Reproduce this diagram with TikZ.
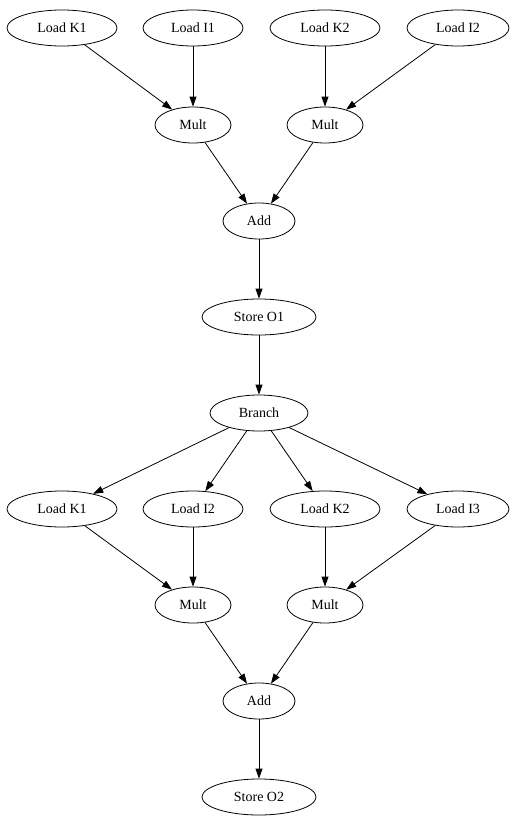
\documentclass[tikz,border=0pt]{standalone}
\usepackage{fontspec}
\setmainfont{Liberation Serif}
\usetikzlibrary{shapes, arrows.meta, positioning}

\begin{document}
\begin{tikzpicture}[x=1pt,y=-1pt]
        \useasboundingbox (0,0) rectangle (514,827);
        \begin{scope}[every node/.style={draw,line width=0.8pt,ellipse,inner sep=0pt,minimum height=36pt,font=\fontsize{14}{16}\selectfont}]
          \node[minimum width=110pt] (ka) at (62,28) {Load K1};
          \node[minimum width=100pt] (ia) at (193,28) {Load I1};
          \node[minimum width=110pt] (kb) at (325,28) {Load K2};
          \node[minimum width=102pt] (ib) at (458,28) {Load I2};
          \node[minimum width=76pt] (ma) at (193,125) {Mult};
          \node[minimum width=76pt] (mb) at (325,125) {Mult};
          \node[minimum width=72pt] (adda) at (259,221) {Add};
          \node[minimum width=114pt] (sa) at (259,317) {Store O1};
          \node[minimum width=98pt] (br) at (259,413) {Branch};
          \node[minimum width=110pt] (kc) at (62,509) {Load K1};
          \node[minimum width=100pt] (ic) at (193,509) {Load I2};
          \node[minimum width=110pt] (kd) at (325,509) {Load K2};
          \node[minimum width=102pt] (id) at (458,509) {Load I3};
          \node[minimum width=76pt] (mc) at (193,605) {Mult};
          \node[minimum width=76pt] (md) at (325,605) {Mult};
          \node[minimum width=72pt] (addb) at (259,701) {Add};
          \node[minimum width=114pt] (sb) at (259,797) {Store O2};
        \end{scope}
        \begin{scope}[every edge/.style={draw=black,line width=0.8pt,-{Triangle[length=10pt,width=7pt]}}]
          \path (ka) edge (ma);
          \path (ia) edge (ma);
          \path (kb) edge (mb);
          \path (ib) edge (mb);
          \path (ma) edge (adda);
          \path (mb) edge (adda);
          \path (adda) edge (sa);
          \path (sa) edge (br);
          \path (br) edge (kc);
          \path (br) edge (ic);
          \path (br) edge (kd);
          \path (br) edge (id);
          \path (kc) edge (mc);
          \path (ic) edge (mc);
          \path (kd) edge (md);
          \path (id) edge (md);
          \path (mc) edge (addb);
          \path (md) edge (addb);
          \path (addb) edge (sb);
        \end{scope}
      \end{tikzpicture}
\end{document}
